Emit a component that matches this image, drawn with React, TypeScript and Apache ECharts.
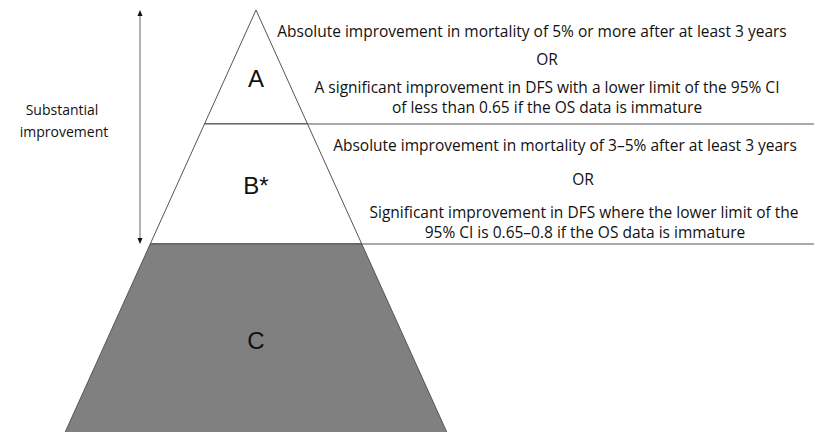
import React, { useEffect, useRef } from "react";
import * as echarts from "echarts";

// Tiers of the pyramid (depth measured on the vertical scale, apex at APEX_Y)
const tiers = ["A", "B*", "C"];
const tierTop = [10, 124, 244];
const tierBottom = [124, 244, 434];

// Criteria texts, one list per tier
const textA = [
  "Absolute improvement in mortality of 5% or more after at least 3 years",
  "OR",
  "A significant improvement in DFS with a lower limit of the 95% CI",
  "of less than 0.65 if the OS data is immature",
];
const textB = [
  "Absolute improvement in mortality of 3\u20135% after at least 3 years",
  "OR",
  "Significant improvement in DFS where the lower limit of the",
  "95% CI is 0.65\u20130.8 if the OS data is immature",
];
const sideLabel = ["Substantial", "improvement"];

// layout
const W = 814;
const H = 432;
const CX = 256;
const APEX_Y = 10;
const SLOPE = 0.452;
const tierLabelY = [78, 185, 340];
const tierFill = ["#ffffff", "#ffffff", "#808080"];
const textAPos = [
  [532, 31],
  [547, 59],
  [547, 87],
  [547, 107],
];
const textBPos = [
  [565, 145],
  [583, 179],
  [584, 212],
  [585, 232],
];
const sidePos = [
  [62, 109],
  [64, 131],
];
const ARROW_X = 140;
const ARROW_TOP = 10;
const ARROW_BOTTOM = 244;

const DESC_FONT = "'Open Sans'";
const DESC_SIZE = 15.5;
const SIDE_SIZE = 14;

export default function App() {
  const ref = useRef<HTMLDivElement>(null);
  useEffect(() => {
    if (!ref.current) return;
    const chart = echarts.init(ref.current, undefined, { renderer: "svg" });
    const hw = (d: number) => (d - APEX_Y) * SLOPE;

    const descText = (lines: string[], pos: number[][], size: number) =>
      lines.map((t, i) => ({
        type: "text",
        x: pos[i][0],
        y: pos[i][1],
        style: {
          text: t,
          fill: "#111",
          font: `${size}px ${DESC_FONT}`,
          align: "center",
          verticalAlign: "middle",
        },
      }));

    const option: any = {
      animation: false,
      grid: { left: 0, right: 0, top: 0, bottom: 0 },
      xAxis: { type: "value", min: 0, max: W, show: false },
      yAxis: { type: "value", min: 0, max: H, inverse: true, show: false },
      series: [
        {
          type: "custom",
          clip: false,
          data: tiers.map((t, i) => [tierTop[i], tierBottom[i], i]),
          renderItem: (params: any, api: any) => {
            const i = params.dataIndex;
            const top = api.value(0);
            const bot = api.value(1);
            const p = (x: number, y: number) => api.coord([x, y]);
            const children: any[] = [
              {
                type: "polygon",
                shape: {
                  points: [
                    p(CX - hw(top), top),
                    p(CX + hw(top), top),
                    p(CX + hw(bot), bot),
                    p(CX - hw(bot), bot),
                  ],
                },
                style: { fill: tierFill[i], stroke: "#555", lineWidth: 1 },
              },
            ];
            if (i < tiers.length - 1) {
              const a = p(CX - hw(bot), bot);
              const b = p(W, bot);
              children.push({
                type: "line",
                shape: { x1: a[0], y1: a[1], x2: b[0], y2: b[1] },
                style: { stroke: "#555", lineWidth: 1 },
              });
            }
            const c = p(CX, tierLabelY[i]);
            children.push({
              type: "text",
              x: c[0],
              y: c[1],
              style: {
                text: tiers[i],
                fill: "#111",
                font: "24px 'Liberation Sans'",
                align: "center",
                verticalAlign: "middle",
              },
            });
            return { type: "group", children };
          },
        },
      ],
      graphic: [
        {
          type: "line",
          shape: { x1: ARROW_X, y1: ARROW_TOP + 5, x2: ARROW_X, y2: ARROW_BOTTOM - 5 },
          style: { stroke: "#666", lineWidth: 1 },
        },
        {
          type: "polygon",
          shape: {
            points: [
              [ARROW_X, ARROW_TOP],
              [ARROW_X - 2.5, ARROW_TOP + 6],
              [ARROW_X + 2.5, ARROW_TOP + 6],
            ],
          },
          style: { fill: "#111" },
        },
        {
          type: "polygon",
          shape: {
            points: [
              [ARROW_X, ARROW_BOTTOM],
              [ARROW_X - 2.5, ARROW_BOTTOM - 6],
              [ARROW_X + 2.5, ARROW_BOTTOM - 6],
            ],
          },
          style: { fill: "#111" },
        },
        ...descText(textA, textAPos, DESC_SIZE),
        ...descText(textB, textBPos, DESC_SIZE),
        ...descText(sideLabel, sidePos, SIDE_SIZE),
      ],
    };
    chart.setOption(option);
    return () => chart.dispose();
  }, []);
  return (
    <div
      ref={ref}
      style={{ position: "absolute", left: 0, top: 0, width: W, height: H, background: "#fff" }}
    />
  );
}
